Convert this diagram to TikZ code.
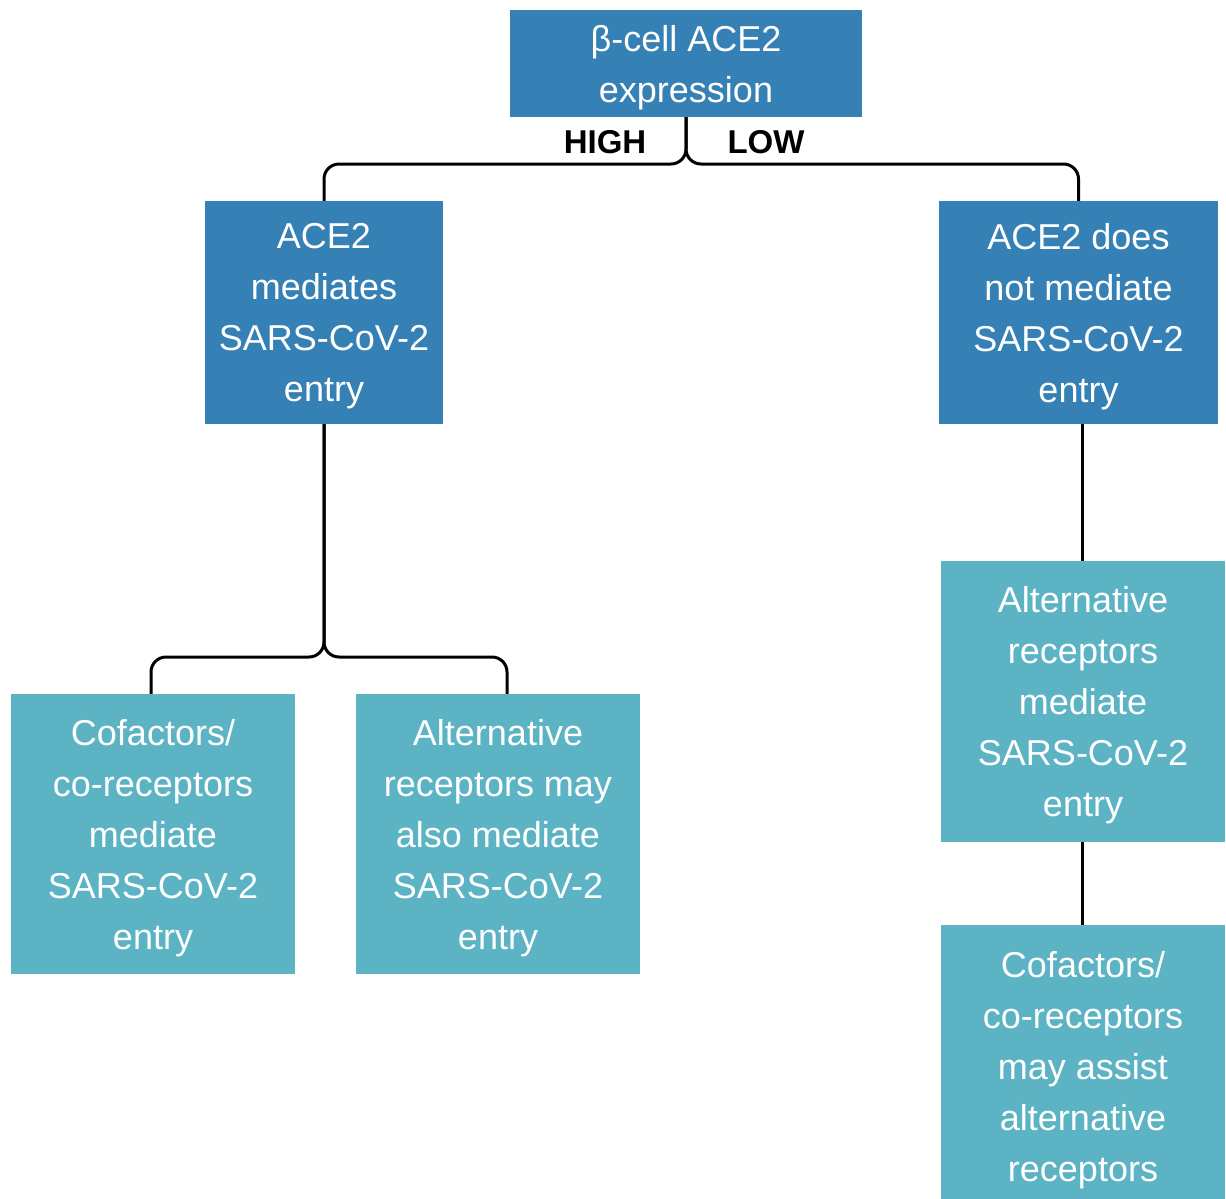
\documentclass[tikz,border=0pt]{standalone}
\usepackage{fontspec}
\setmainfont{Liberation Sans}
\definecolor{darkbox}{HTML}{3580B4}
\definecolor{lightbox}{HTML}{5BB3C4}
\begin{document}
\begin{tikzpicture}[x=1pt,y=-1pt,
  boxbase/.style={inner sep=0pt, align=center, text=white,
    font=\fontsize{36}{51}\selectfont},
  darkbox/.style={boxbase, fill=darkbox},
  lightbox/.style={boxbase, fill=lightbox},
  txt/.style={boxbase, yshift=-4pt},
  conn/.style={draw=black, line width=3pt, rounded corners=15pt},
  lbl/.style={font=\fontsize{33}{40}\selectfont\bfseries, text=black}]
\clip (0,0) rectangle (1226,1199);
\fill[white] (0,0) rectangle (1226,1199);
% boxes
\node[darkbox, minimum width=352pt, minimum height=107pt] (top) at (686,63.5) {};
\node[txt] (topt) at (top) {β-cell ACE2\\expression};
\node[darkbox, minimum width=238pt, minimum height=223pt] (L) at (324,312.5) {};
\node[txt] (Lt) at (L) {ACE2\\mediates\\SARS-CoV-2\\entry};
\node[darkbox, minimum width=279pt, minimum height=223pt] (R) at (1078.5,312.5) {};
\node[txt] (Rt) at (R) {ACE2 does\\not mediate\\SARS-CoV-2\\entry};
\node[lightbox, minimum width=284pt, minimum height=280pt] (LL) at (153,834) {};
\node[txt] (LLt) at (LL) {Cofactors/\\co-receptors\\mediate\\SARS-CoV-2\\entry};
\node[lightbox, minimum width=284pt, minimum height=280pt] (LR) at (498,834) {};
\node[txt] (LRt) at (LR) {Alternative\\receptors may\\also mediate\\SARS-CoV-2\\entry};
\node[lightbox, minimum width=284pt, minimum height=281pt] (R1) at (1083,701.5) {};
\node[txt] (R1t) at (R1) {Alternative\\receptors\\mediate\\SARS-CoV-2\\entry};
\node[lightbox, minimum width=284pt, minimum height=282pt] (R2) at (1083,1066) {};
\node[txt] (R2t) at (R2) {Cofactors/\\co-receptors\\may assist\\alternative\\receptors};
% labels
\node[lbl] (high) at (605,142) {HIGH};
\node[lbl] (low) at (766,142) {LOW};
% connectors
\coordinate (topj) at (686,164);
\draw[conn] (top.south) -- (topj) -- (L.north |- topj) -- (L.north);
\draw[conn] (top.south) -- (topj) -- (R.north |- topj) -- (R.north);
\coordinate (lj) at (324,657);
\coordinate (llj) at (151,657);
\coordinate (lrj) at (507,657);
\draw[conn] (L.south) -- (lj) -- (llj) -- (llj |- LL.north);
\draw[conn] (L.south) -- (lj) -- (lrj) -- (lrj |- LR.north);
\coordinate (r1top) at (1082,561);
\coordinate (r2top) at (1082,925);
\draw[conn] (r1top |- R.south) -- (r1top);
\draw[conn] (r2top |- R1.south) -- (r2top);
\end{tikzpicture}
\end{document}
